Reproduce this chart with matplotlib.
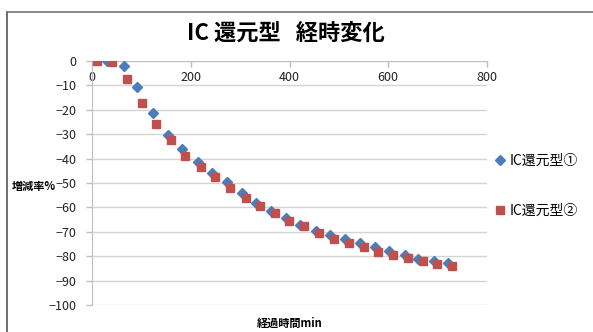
import matplotlib
matplotlib.use("Agg")
import matplotlib.pyplot as plt
from matplotlib.lines import Line2D

plt.rcParams['font.family'] = ['Noto Sans CJK JP', 'DejaVu Sans']

# elapsed time (min) and change rate (%) for the two IC reduced-type samples
time_1 = [30, 65, 92, 124, 154, 183, 214, 244, 274, 303, 333, 363,
          393, 422, 453, 483, 512, 543, 573, 602, 633, 661, 692, 721]
rate_1 = [0, -1.9, -10.8, -21.2, -30.3, -36.2, -41.4, -45.8, -49.7, -54.3, -58.1, -61.5,
          -64.5, -67.2, -69.7, -71.3, -73.1, -74.7, -76.4, -77.9, -79.6, -81.3, -82.1, -82.7]

time_2 = [10, 41, 70, 101, 130, 160, 189, 221, 250, 280, 311, 340, 370,
          399, 430, 460, 490, 520, 550, 580, 610, 639, 670, 699, 729]
rate_2 = [0, -0.5, -7.4, -17.1, -25.8, -32.4, -38.9, -43.3, -47.5, -51.9, -56.0, -59.3, -62.3,
          -65.5, -67.6, -70.4, -72.8, -74.5, -76.1, -78.4, -79.5, -80.6, -82.0, -83.2, -83.9]

labels = ['IC還元型①', 'IC還元型②']
x_ticks = [0, 200, 400, 600, 800]
y_ticks = list(range(-100, 1, 10))

fig = plt.figure(figsize=(5.93, 3.32), dpi=100)
ax = fig.add_axes([92 / 593, 1 - 305 / 332, 395 / 593, 244 / 332])

ax.plot(time_1, rate_1, 'D', color='#4a7ebb', markersize=5.5, label=labels[0], zorder=3)
ax.plot(time_2, rate_2, 's', color='#c0504d', markersize=5.6, label=labels[1], zorder=3)

ax.set_xlim(0, 800)
ax.set_ylim(-100, 0)
ax.set_xticks(x_ticks)
ax.set_yticks(y_ticks)
ax.yaxis.grid(True, color='#d4d4d4', linewidth=1)
ax.set_axisbelow(True)

# horizontal axis crosses at zero, so it sits on top of the plot
for side in ['top', 'right']:
    ax.spines[side].set_visible(False)
ax.spines['bottom'].set_position(('data', 0))
ax.spines['bottom'].set_color('#bfbfbf')
ax.spines['left'].set_color('#bfbfbf')
ax.tick_params(axis='both', colors='#bfbfbf', length=4, width=1, labelsize=9,
               labelcolor='#222222')
ax.tick_params(axis='x', direction='out', pad=3)
ax.tick_params(axis='y', direction='out', pad=7)

fig.text(286 / 593, 1 - 33 / 332, 'IC 還元型   経時変化', fontsize=16, fontweight='bold',
         ha='center', va='center')
fig.text(12 / 593, 1 - 186 / 332, '増減率%', fontsize=8, fontweight='bold',
         ha='left', va='center')
fig.text(290 / 593, 1 - 323 / 332, '経過時間min', fontsize=8, fontweight='bold',
         ha='center', va='center')

ax.legend(loc='center left', bbox_to_anchor=(490 / 593, 1 - 186 / 332),
          bbox_transform=fig.transFigure, frameon=False, fontsize=10,
          labelspacing=2.6, handlelength=0.6, handletextpad=0.4, borderaxespad=0)

# chart area border (only top and left edges fall inside the image)
fig.add_artist(Line2D([7 / 593, 7 / 593], [0, 1 - 12 / 332], color='#555555',
                      linewidth=1.2, transform=fig.transFigure))
fig.add_artist(Line2D([7 / 593, 1], [1 - 12 / 332, 1 - 12 / 332], color='#777777',
                      linewidth=1.2, transform=fig.transFigure))

fig.savefig('out.png', dpi=100)
